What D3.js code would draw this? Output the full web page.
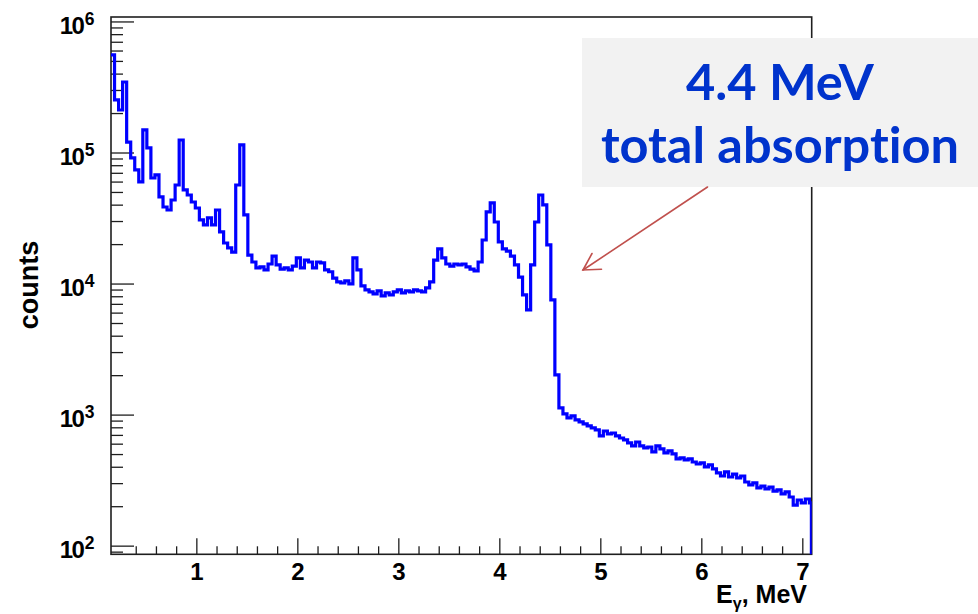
<!DOCTYPE html>
<html>
<head>
<meta charset="utf-8">
<script src="https://cdn.jsdelivr.net/npm/d3@7"></script>
<style>
  body { margin: 0; background: #fff; }
  svg { display: block; }
</style>
</head>
<body>
<svg id="chart" width="978" height="614"></svg>
<script>
// Gamma-ray energy spectrum, fixed-width bins (MeV), counts per bin
const binStart = 0.15;
const binWidth = 0.04;
const binEnd = 7.09;
const counts = [
  555000, 252000, 211000, 345000, 120000, 90900, 73600, 59600, 148600, 108300,
  63900, 67400, 45800, 38400, 36400, 43400, 56500, 124600, 51800, 47400,
  41900, 37700, 30600, 28000, 31700, 28000, 36400, 24800, 20400, 18700,
  17400, 56500, 114200, 33400, 16500, 14600, 13150, 13400, 12700, 14100,
  16200, 13900, 12900, 13150, 12700, 13600, 15700, 13150, 15100, 14600,
  13150, 14600, 14400, 12700, 12300, 11000, 10300, 10100, 10500, 9930,
  15700, 12700, 9590, 8940, 8630, 8330, 8780, 8040, 8480, 8190,
  8630, 8940, 8480, 8780, 8630, 8940, 8780, 8630, 9260, 10300,
  15100, 18400, 15700, 14100, 13600, 14100, 13900, 14100, 13400, 12900,
  12500, 14600, 21500, 35200, 41200, 29500, 20800, 18400, 17700, 16200,
  13900, 11200, 8190, 6290, 13900, 29500, 47400, 39800, 19700, 7500,
  2008, 1124, 1012, 943, 977, 910, 879, 849, 819, 791,
  764, 687, 750, 712, 724, 687, 663, 641, 608, 577,
  618, 577, 557, 566, 519, 577, 547, 510, 528, 501,
  459, 467, 451, 459, 435, 420, 428, 399, 413, 385,
  359, 340, 365, 334, 352, 329, 340, 306, 291, 301,
  276, 285, 271, 280, 261, 266, 248, 257, 235, 204,
  223, 212, 227, 212
];

// Axis ticks
const xTicks = [1, 2, 3, 4, 5, 6, 7];
const xMinorTicks = [0.4, 0.6, 0.8, 1.2, 1.4, 1.6, 1.8, 2.2, 2.4, 2.6, 2.8,
  3.2, 3.4, 3.6, 3.8, 4.2, 4.4, 4.6, 4.8, 5.2, 5.4, 5.6, 5.8,
  6.2, 6.4, 6.6, 6.8];
const yDecadeExponents = [2, 3, 4, 5, 6];
const yMinorMantissas = [2, 3, 4, 5, 6, 7, 8, 9];

const xTitleMain = "E";
const xTitleSub = "γ";
const xTitleRest = ", MeV";
const yTitle = "counts";
const noteLines = ["4.4 MeV", "total absorption"];

const svg = d3.select("#chart");
const frame = { left: 111, right: 811.7, top: 17, bottom: 554.3 };

const x = d3.scaleLinear().domain([0.155, 7.093]).range([frame.left, frame.right]);
const y = d3.scaleLog().domain([Math.pow(10, 1.934), Math.pow(10, 6.034)])
  .range([frame.bottom, frame.top]);

const axisColor = "#1e1e1e";
const labelFont = "'Liberation Sans', Arial, Helvetica, sans-serif";

// clip region for the histogram
svg.append("defs").append("clipPath").attr("id", "plotClip")
  .append("rect")
  .attr("x", frame.left).attr("y", frame.top)
  .attr("width", frame.right - frame.left)
  .attr("height", frame.bottom - frame.top);

// X axis: major and minor ticks pointing into the frame
const xMajor = svg.append("g")
  .attr("transform", `translate(0,${frame.bottom})`)
  .call(d3.axisBottom(x).tickValues(xTicks).tickSize(-16).tickSizeOuter(0)
    .tickPadding(9).tickFormat(d3.format("d")));
xMajor.select(".domain").remove();
xMajor.selectAll("line").attr("stroke", axisColor).attr("stroke-width", 1.3);
xMajor.selectAll("text")
  .attr("fill", "#000")
  .style("font-family", labelFont)
  .style("font-weight", "bold")
  .style("font-size", "24px");

const xMinor = svg.append("g")
  .attr("transform", `translate(0,${frame.bottom})`)
  .call(d3.axisBottom(x).tickValues(xMinorTicks).tickSize(-8).tickSizeOuter(0).tickFormat(""));
xMinor.select(".domain").remove();
xMinor.selectAll("line").attr("stroke", axisColor).attr("stroke-width", 1.3);

// Y axis (log): decade ticks and 2..9 minor ticks
const yMajorValues = yDecadeExponents.map(e => Math.pow(10, e));
const yMinorValues = [];
for (let e = 1; e <= 6; e++) {
  for (const m of yMinorMantissas) {
    const v = m * Math.pow(10, e);
    if (v >= y.domain()[0] && v <= y.domain()[1]) yMinorValues.push(v);
  }
}

const yMajor = svg.append("g")
  .attr("transform", `translate(${frame.left},0)`)
  .call(d3.axisLeft(y).tickValues(yMajorValues).tickSize(-23).tickSizeOuter(0).tickFormat(""));
yMajor.select(".domain").remove();
yMajor.selectAll("line").attr("stroke", axisColor).attr("stroke-width", 1.3);

const yMinor = svg.append("g")
  .attr("transform", `translate(${frame.left},0)`)
  .call(d3.axisLeft(y).tickValues(yMinorValues).tickSize(-12).tickSizeOuter(0).tickFormat(""));
yMinor.select(".domain").remove();
yMinor.selectAll("line").attr("stroke", axisColor).attr("stroke-width", 1.3);

// decade labels 10^n
const yLabels = svg.append("g");
yDecadeExponents.forEach(e => {
  const t = yLabels.append("text")
    .attr("x", 94.5)
    .attr("y", y(Math.pow(10, e)) + 12.8)
    .attr("text-anchor", "end")
    .attr("fill", "#000")
    .style("font-family", labelFont)
    .style("font-weight", "bold");
  t.append("tspan").style("font-size", "24px").attr("letter-spacing", "-1.8").text("10");
  t.append("tspan").style("font-size", "17.5px").attr("dx", 1.8).attr("dy", -9.5).text(String(e));
});

// frame
svg.append("rect")
  .attr("x", frame.left).attr("y", frame.top)
  .attr("width", frame.right - frame.left)
  .attr("height", frame.bottom - frame.top)
  .attr("fill", "none")
  .attr("stroke", axisColor)
  .attr("stroke-width", 1.6);

// histogram as a step line
const edges = counts.map((c, i) => binStart + i * binWidth);
const pts = counts.map((c, i) => [x(edges[i]), y(c)]);
pts.push([x(binEnd), y(counts[counts.length - 1])]);
pts.push([x(binEnd), frame.bottom + 4]);

svg.append("path")
  .attr("clip-path", "url(#plotClip)")
  .attr("d", d3.line().curve(d3.curveStepAfter)(pts))
  .attr("fill", "none")
  .attr("stroke", "#0000ff")
  .attr("stroke-width", 3.2)
  .attr("stroke-linejoin", "miter");

// axis titles
const xt = svg.append("text")
  .attr("x", 807).attr("y", 603)
  .attr("text-anchor", "end")
  .attr("fill", "#000")
  .style("font-family", labelFont)
  .style("font-weight", "bold")
  .style("font-size", "25px");
xt.append("tspan").text(xTitleMain);
xt.append("tspan").style("font-size", "16px").attr("dy", 6).text(xTitleSub);
xt.append("tspan").attr("dy", -6).text(xTitleRest);

svg.append("text")
  .attr("transform", "translate(38,285) rotate(-90)")
  .attr("text-anchor", "middle")
  .attr("fill", "#000")
  .style("font-family", labelFont)
  .style("font-weight", "bold")
  .style("font-size", "27px")
  .text(yTitle);

// annotation box with arrow pointing at the 4.4 MeV edge
svg.append("rect")
  .attr("x", 582).attr("y", 38)
  .attr("width", 978 - 582).attr("height", 187 - 38)
  .attr("fill", "#f2f2f2");

const arrowColor = "#c0504d";
const arrow = svg.append("g")
  .attr("stroke", arrowColor)
  .attr("stroke-width", 1.6)
  .attr("fill", "none")
  .attr("stroke-linecap", "round");
arrow.append("line").attr("x1", 707.5).attr("y1", 187).attr("x2", 583).attr("y2", 270);
arrow.append("polyline").attr("points", "592,253.5 583,270 601.5,269.3");

const noteFont = "Lato, 'Open Sans', sans-serif";
const noteBaselines = [99.5, 163];
const note = svg.append("g");
const noteTexts = noteLines.map((s, i) => note.append("text")
  .attr("x", 780).attr("y", noteBaselines[i])
  .attr("text-anchor", "middle")
  .attr("fill", "#0033cc")
  .style("font-family", noteFont)
  .style("font-weight", "bold")
  .style("font-variant-ligatures", "none")
  .style("font-size", "50px")
  .text(s));
// scale the note font so the longer line spans the box width
const wide = noteTexts[1].node().getComputedTextLength();
const fs = 50 * 358 / wide;
noteTexts.forEach(t => t.style("font-size", fs.toFixed(1) + "px"));
</script>
</body>
</html>
